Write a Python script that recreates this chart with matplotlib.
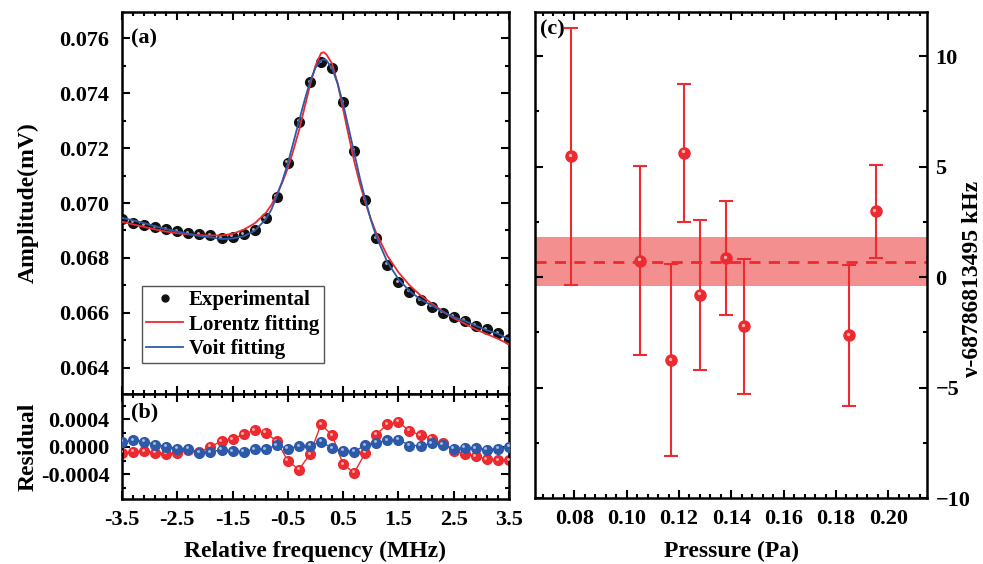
import matplotlib
matplotlib.use("Agg")
import matplotlib.pyplot as plt
import numpy as np
from matplotlib.ticker import MultipleLocator, FormatStrFormatter
from matplotlib.transforms import offset_copy

plt.rcParams['font.family'] = ['Liberation Serif', 'DejaVu Serif']
plt.rcParams['font.weight'] = 'bold'
plt.rcParams['axes.labelweight'] = 'bold'
plt.rcParams['mathtext.default'] = 'regular'

# ---- panel (a) data: measured line profile ----
freq = [-3.5, -3.3, -3.1, -2.9, -2.7, -2.5, -2.3, -2.1, -1.9, -1.7, -1.5, -1.3,
        -1.1, -0.9, -0.7, -0.5, -0.3, -0.1, 0.1, 0.3, 0.5, 0.7, 0.9, 1.1,
        1.3, 1.5, 1.7, 1.9, 2.1, 2.3, 2.5, 2.7, 2.9, 3.1, 3.3, 3.5]
amp = [0.06941, 0.06928, 0.06920, 0.06912, 0.06904, 0.06898, 0.06891, 0.06887,
       0.06884, 0.06872, 0.06877, 0.06886, 0.06902, 0.06944, 0.07023, 0.07147,
       0.07296, 0.07439, 0.07512, 0.07490, 0.07366, 0.07190, 0.07012, 0.06872,
       0.06775, 0.06712, 0.06678, 0.06647, 0.06623, 0.06601, 0.06587, 0.06572,
       0.06554, 0.06541, 0.06526, 0.06504]

# fitted curves
fit_x = [-3.5, -3.3, -3.1, -2.9, -2.7, -2.5, -2.3, -2.1, -1.9, -1.7, -1.5, -1.3,
         -1.1, -0.9, -0.8, -0.7, -0.6, -0.5, -0.4, -0.3, -0.2, -0.1, 0.0, 0.1,
         0.15, 0.2, 0.3, 0.4, 0.5, 0.6, 0.7, 0.8, 0.9, 1.0, 1.1, 1.3, 1.5, 1.7,
         1.9, 2.1, 2.3, 2.5, 2.7, 2.9, 3.1, 3.3, 3.5]
lorentz = [0.06932, 0.06922, 0.06913, 0.06904, 0.06896, 0.06890, 0.06886, 0.06883,
           0.06882, 0.06882, 0.06888, 0.06903, 0.06926, 0.06964, 0.06992, 0.07031,
           0.07075, 0.07127, 0.07192, 0.07263, 0.07345, 0.07428, 0.07500, 0.07545,
           0.07549, 0.07540, 0.07507, 0.07435, 0.07341, 0.07245, 0.07152, 0.07072,
           0.07003, 0.06942, 0.06890, 0.06808, 0.06748, 0.06701, 0.06664, 0.06635,
           0.06606, 0.06581, 0.06561, 0.06540, 0.06523, 0.06506, 0.06486]
voigt = [0.06946, 0.06937, 0.06927, 0.06915, 0.06905, 0.06896, 0.06888, 0.06880,
         0.06875, 0.06869, 0.06871, 0.06879, 0.06899, 0.06941, 0.06975, 0.07025,
         0.07080, 0.07145, 0.07220, 0.07297, 0.07372, 0.07441, 0.07492, 0.07519,
         0.07523, 0.07519, 0.07489, 0.07435, 0.07360, 0.07272, 0.07183, 0.07093,
         0.07014, 0.06940, 0.06878, 0.06785, 0.06723, 0.06680, 0.06649, 0.06628,
         0.06604, 0.06585, 0.06571, 0.06553, 0.06537, 0.06524, 0.06504]

# ---- panel (b): residuals ----
res_lorentz = [-0.000087, -0.000073, -0.000063, -0.000087, -0.000097, -0.000087,
               -0.000049, -0.000073, 0.000000, 0.000087, 0.000116, 0.000184,
               0.000243, 0.000204, 0.000082, -0.000204, -0.000330, -0.000107,
               0.000330, 0.000170, -0.000252, -0.000378, -0.000087, 0.000180,
               0.000330, 0.000364, 0.000233, 0.000170, 0.000121, 0.000049,
               -0.000058, -0.000097, -0.000136, -0.000180, -0.000194, -0.000194]
res_voigt = [0.000073, 0.000097, 0.000078, 0.000034, 0.000005, -0.000024,
             -0.000024, -0.000087, -0.000078, -0.000039, -0.000063, -0.000068,
             -0.000034, -0.000034, 0.000024, -0.000024, 0.000010, 0.000019,
             0.000073, -0.000015, -0.000058, -0.000068, 0.000024, 0.000058,
             0.000097, 0.000107, 0.000019, 0.000019, 0.000049, 0.000034,
             -0.000024, -0.000010, -0.000015, -0.000039, -0.000024, 0.000000]

# ---- panel (c): frequency vs pressure ----
pressure = [0.0789, 0.1052, 0.1170, 0.1221, 0.1281, 0.1381, 0.1450, 0.1850, 0.1952]
nu = [5.47, 0.75, -3.76, 5.63, -0.80, 0.86, -2.23, -2.63, 2.97]
nu_err = [5.82, 4.27, 4.35, 3.13, 3.40, 2.58, 3.05, 3.20, 2.09]
nu_mean = 0.68
band_lo, band_hi = -0.42, 1.81

RED = '#ec2a2f'
BLUE = '#2c5aa9'
BAND = '#f48f90'


def style(ax):
    ax.tick_params(which='both', direction='in', top=True, right=True,
                   width=1.5, labelsize=16)
    ax.tick_params(which='major', length=6)
    ax.tick_params(which='minor', length=3)
    for s in ax.spines.values():
        s.set_linewidth(1.8)


def balls(ax, x, y, color, hl, ms, z):
    ax.plot(x, y, 'o', color=color, ms=ms, mec=color, zorder=z)
    tr = offset_copy(ax.transData, fig=ax.figure, x=-1.0, y=1.0, units='points')
    ax.plot(x, y, 'o', color=hl, ms=ms * 0.3, mew=0, alpha=0.8,
            transform=tr, zorder=z + 0.1)


fig = plt.figure(figsize=(9.83, 5.64), dpi=100)
ax1 = fig.add_axes([0.1241, 0.3014, 0.3937, 0.6773])
ax2 = fig.add_axes([0.1241, 0.1152, 0.3937, 0.1862], sharex=ax1)
ax3 = fig.add_axes([0.5443, 0.1170, 0.3988, 0.8617])

# (a)
balls(ax1, freq, amp, '#111111', '#d0d0d0', 7, 2)
ax1.plot(fit_x, lorentz, color=RED, lw=1.3, zorder=3)
ax1.plot(fit_x, voigt, color=BLUE, lw=1.3, zorder=4)
h_exp, = ax1.plot([], [], 'o', color='#111111', ms=5)
h_l, = ax1.plot([], [], color=RED, lw=1.3)
h_v, = ax1.plot([], [], color=BLUE, lw=1.3)
leg = ax1.legend([h_exp, h_l, h_v], ['Experimental', 'Lorentz fitting', 'Voit fitting'],
                 loc='lower left', bbox_to_anchor=(0.052, 0.08), fontsize=15,
                 fancybox=False, edgecolor='#555555', framealpha=1,
                 handlelength=1.75, borderpad=0.2, labelspacing=0.22,
                 handletextpad=0.3, borderaxespad=0)
leg.get_frame().set_linewidth(1.0)
ax1.set_xlim(-3.5, 3.5)
ax1.set_ylim(0.06305, 0.07695)
ax1.yaxis.set_major_locator(MultipleLocator(0.002))
ax1.yaxis.set_minor_locator(MultipleLocator(0.001))
ax1.yaxis.set_major_formatter(FormatStrFormatter('%.3f'))
ax1.set_ylabel('Amplitude(mV)', fontsize=17)
ax1.yaxis.set_label_coords(-0.215, 0.5)
ax1.text(0.023, 0.932, '(a)', transform=ax1.transAxes, fontsize=16,
         va='center', ha='left')
style(ax1)
ax1.tick_params(labelbottom=False)
ax1.tick_params(axis='y', pad=9)

# (b)
ax2.plot(freq, res_lorentz, '-', color=RED, lw=1.0, zorder=2)
balls(ax2, freq, res_lorentz, RED, '#ffd0d0', 7, 2.5)
ax2.plot(freq, res_voigt, '-', color=BLUE, lw=1.0, zorder=3)
balls(ax2, freq, res_voigt, BLUE, '#c8d4f0', 7, 3.5)
ax2.set_ylim(-0.00076, 0.00077)
ax2.yaxis.set_major_locator(MultipleLocator(0.0004))
ax2.yaxis.set_minor_locator(MultipleLocator(0.0002))
ax2.yaxis.set_major_formatter(FormatStrFormatter('%.4f'))
ax2.xaxis.set_major_locator(MultipleLocator(1.0, offset=0.5))
ax2.xaxis.set_minor_locator(MultipleLocator(0.2, offset=0.1))
ax2.xaxis.set_major_formatter(FormatStrFormatter('%.1f'))
ax2.set_ylabel('Residual', fontsize=17)
ax2.yaxis.set_label_coords(-0.215, 0.5)
ax2.set_xlabel('Relative frequency (MHz)', fontsize=17)
ax2.xaxis.set_label_coords(0.5, -0.40)
ax2.text(0.023, 0.82, '(b)', transform=ax2.transAxes, fontsize=16,
         va='center', ha='left')
style(ax2)
ax2.tick_params(axis='x', pad=8)
ax2.tick_params(axis='y', pad=9)

# (c)
ax3.axhspan(band_lo, band_hi, color=BAND, lw=0, zorder=1)
ax3.axhline(nu_mean, color=RED, lw=2, ls=(0, (4, 3)), zorder=2)
ax3.errorbar(pressure, nu, yerr=nu_err, fmt='none', ecolor=RED, elinewidth=1.5,
             capsize=5, capthick=1.5, zorder=3)
balls(ax3, pressure, nu, RED, '#ffd8d8', 8, 4)
ax3.set_xlim(0.065, 0.2148)
ax3.set_ylim(-10, 12)
ax3.xaxis.set_major_locator(MultipleLocator(0.02))
ax3.xaxis.set_minor_locator(MultipleLocator(0.004))
ax3.xaxis.set_major_formatter(FormatStrFormatter('%.2f'))
ax3.yaxis.set_major_locator(MultipleLocator(5))
ax3.yaxis.set_minor_locator(MultipleLocator(2.5))
ax3.set_xlabel('Pressure (Pa)', fontsize=17)
ax3.xaxis.set_label_coords(0.5, -0.088)
ax3.yaxis.set_label_position('right')
ax3.set_ylabel('ν-68786813495 kHz', fontsize=17)
ax3.yaxis.set_label_coords(1.088, 0.45)
ax3.text(0.013, 0.965, '(c)', transform=ax3.transAxes, fontsize=16,
         va='center', ha='left')
style(ax3)
ax3.tick_params(labelleft=False, labelright=True)
ax3.tick_params(axis='x', pad=8)
ax3.tick_params(axis='y', pad=6)

fig.savefig('out.png', dpi=100)
